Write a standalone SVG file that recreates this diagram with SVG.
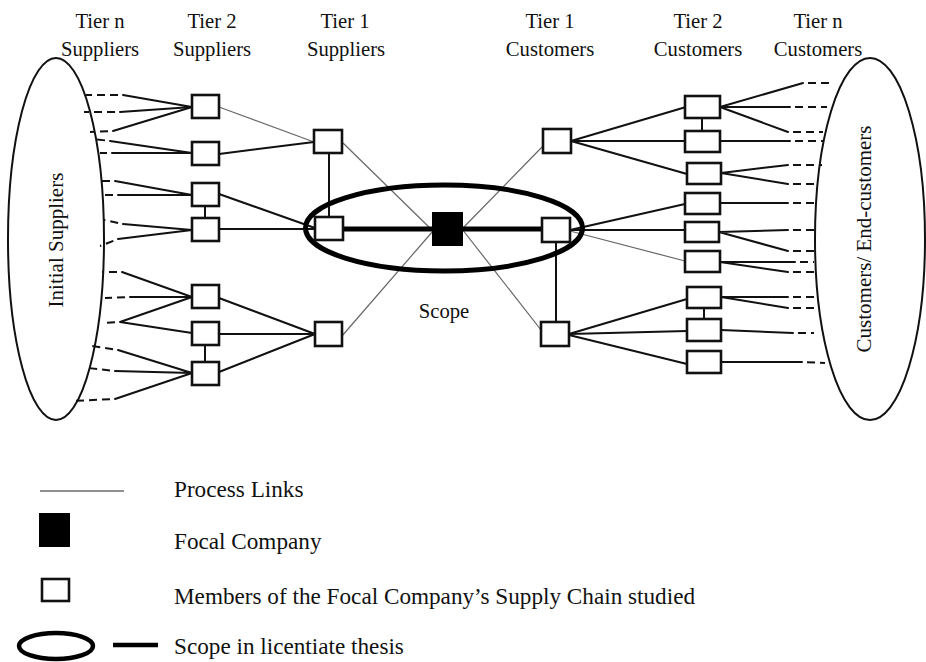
<svg xmlns="http://www.w3.org/2000/svg" width="926" height="662" viewBox="0 0 926 662">
  <style>
    text { font-family: "Liberation Serif", "Times New Roman", serif; fill: #111; }
    .hdr { font-size: 20.7px; text-anchor: middle; }
    .side { font-size: 21px; text-anchor: middle; }
    .leg { font-size: 23.2px; }
    .node { fill: #fff; stroke: #111; stroke-width: 2.6; }
    .focal { fill: #000; stroke: none; }
    .link { fill: none; stroke: #111; stroke-width: 2; stroke-linecap: round; stroke-linejoin: round; }
    .thin { fill: none; stroke: #666; stroke-width: 1.2; }
    .dash { fill: none; stroke: #111; stroke-width: 2; stroke-dasharray: 8 5; stroke-dashoffset: 8; }
    .scope { fill: none; stroke: #000; stroke-width: 5; }
    .outer { fill: none; stroke: #111; stroke-width: 2; }
  </style>

  <!-- column headers -->
  <g id="headers">
    <text class="hdr" x="100" y="28">Tier n</text>
    <text class="hdr" x="100" y="56">Suppliers</text>
    <text class="hdr" x="212" y="28">Tier 2</text>
    <text class="hdr" x="212" y="56">Suppliers</text>
    <text class="hdr" x="345" y="28">Tier 1</text>
    <text class="hdr" x="346" y="56">Suppliers</text>
    <text class="hdr" x="550" y="28">Tier 1</text>
    <text class="hdr" x="550" y="56">Customers</text>
    <text class="hdr" x="698" y="28">Tier 2</text>
    <text class="hdr" x="698" y="56">Customers</text>
    <text class="hdr" x="818" y="28">Tier n</text>
    <text class="hdr" x="818" y="56">Customers</text>
  </g>

  <!-- outer groups at both ends of the chain -->
  <g id="initial-suppliers">
    <ellipse class="outer" cx="56" cy="239" rx="48" ry="181"/>
    <text class="side" transform="translate(63 240) rotate(-90)">Initial Suppliers</text>
  </g>
  <g id="end-customers">
    <ellipse class="outer" cx="870" cy="239" rx="55" ry="181"/>
    <text class="side" transform="translate(871 239) rotate(-90)">Customers/ End-customers</text>
  </g>

  <g id="connectors">
    <!-- tier n suppliers to tier 2 suppliers: solid part -->
    <polyline class="link" points="123,95 192,107 120,112"/>
    <line class="link" x1="113" y1="131" x2="192" y2="107"/>
    <polyline class="link" points="110,141 192,153 112,153"/>
    <polyline class="link" points="115,181 192,195 118,195"/>
    <polyline class="link" points="123,224 192,230 118,239"/>
    <polyline class="link" points="122,272 192,297 130,297"/>
    <polyline class="link" points="192,297 120,322 192,333"/>
    <polyline class="link" points="118,350 192,373 115,371"/>
    <line class="link" x1="115" y1="399" x2="192" y2="373"/>
    <!-- tier n suppliers: dashed part -->
    <line class="dash" x1="123" y1="95" x2="86" y2="95"/>
    <line class="dash" x1="120" y1="112" x2="84" y2="112"/>
    <line class="dash" x1="113" y1="131" x2="90" y2="132"/>
    <line class="dash" x1="110" y1="141" x2="94" y2="139"/>
    <line class="dash" x1="112" y1="153" x2="100" y2="153"/>
    <line class="dash" x1="115" y1="181" x2="99" y2="181"/>
    <line class="dash" x1="118" y1="195" x2="100" y2="195"/>
    <line class="dash" x1="123" y1="224" x2="104" y2="220"/>
    <line class="dash" x1="118" y1="239" x2="100" y2="246"/>
    <line class="dash" x1="122" y1="272" x2="102" y2="272"/>
    <line class="dash" x1="130" y1="297" x2="105" y2="298"/>
    <line class="dash" x1="120" y1="322" x2="102" y2="323"/>
    <line class="dash" x1="118" y1="350" x2="92" y2="346"/>
    <line class="dash" x1="115" y1="371" x2="88" y2="368"/>
    <line class="dash" x1="115" y1="399" x2="72" y2="401"/>

    <!-- tier 2 suppliers to tier 1 suppliers -->
    <line class="thin" x1="219" y1="107" x2="314" y2="142"/>
    <line class="link" x1="219" y1="154" x2="314" y2="142"/>
    <line class="link" x1="219" y1="194" x2="315" y2="228"/>
    <line class="link" x1="219" y1="229" x2="315" y2="229"/>
    <line class="link" x1="219" y1="298" x2="315" y2="334"/>
    <line class="link" x1="219" y1="334" x2="315" y2="334"/>
    <line class="link" x1="219" y1="372" x2="315" y2="334"/>
    <line class="link" x1="205" y1="206" x2="205" y2="218"/>
    <line class="link" x1="205" y1="345" x2="205" y2="362"/>
    <line class="link" x1="329" y1="153" x2="329" y2="217"/>

    <!-- process links through the focal company -->
    <line class="thin" x1="343" y1="143" x2="433" y2="231"/>
    <line class="thin" x1="342" y1="336" x2="433" y2="231"/>
    <line class="thin" x1="462" y1="229" x2="543" y2="146"/>
    <line class="thin" x1="462" y1="229" x2="541" y2="330"/>
    <line class="link" x1="556" y1="242" x2="556" y2="322"/>

    <!-- tier 1 customers to tier 2 customers -->
    <line class="link" x1="571" y1="141" x2="686" y2="107"/>
    <line class="link" x1="571" y1="141" x2="685" y2="141"/>
    <line class="link" x1="571" y1="141" x2="687" y2="174"/>
    <line class="link" x1="570" y1="230" x2="685" y2="204"/>
    <line class="link" x1="570" y1="230" x2="685" y2="230"/>
    <line class="thin" x1="570" y1="231" x2="685" y2="261"/>
    <line class="link" x1="569" y1="334" x2="687" y2="299"/>
    <line class="link" x1="569" y1="334" x2="687" y2="331"/>
    <line class="link" x1="569" y1="335" x2="687" y2="364"/>
    <line class="link" x1="702" y1="118" x2="702" y2="131"/>
    <line class="link" x1="704" y1="308" x2="704" y2="319"/>

    <!-- tier 2 customers to tier n customers: solid part -->
    <polyline class="link" points="803,83 720,107 790,107"/>
    <line class="link" x1="720" y1="107" x2="788" y2="132"/>
    <line class="link" x1="720" y1="141" x2="790" y2="141"/>
    <polyline class="link" points="788,165 721,173 788,184"/>
    <line class="link" x1="720" y1="203" x2="788" y2="203"/>
    <polyline class="link" points="788,230 719,232 788,251"/>
    <polyline class="link" points="795,262 720,262 788,272"/>
    <polyline class="link" points="788,297 721,297 788,308"/>
    <line class="link" x1="721" y1="330" x2="793" y2="333"/>
    <line class="link" x1="721" y1="362" x2="802" y2="362"/>
    <!-- tier n customers: dashed part -->
    <line class="dash" x1="803" y1="83" x2="832" y2="83"/>
    <line class="dash" x1="790" y1="107" x2="827" y2="107"/>
    <line class="dash" x1="788" y1="132" x2="823" y2="132"/>
    <line class="dash" x1="790" y1="141" x2="823" y2="141"/>
    <line class="dash" x1="788" y1="165" x2="822" y2="165"/>
    <line class="dash" x1="788" y1="184" x2="814" y2="184"/>
    <line class="dash" x1="788" y1="203" x2="814" y2="203"/>
    <line class="dash" x1="788" y1="230" x2="814" y2="230"/>
    <line class="dash" x1="788" y1="251" x2="814" y2="251"/>
    <line class="dash" x1="795" y1="262" x2="814" y2="262"/>
    <line class="dash" x1="788" y1="272" x2="814" y2="272"/>
    <line class="dash" x1="788" y1="297" x2="814" y2="297"/>
    <line class="dash" x1="788" y1="308" x2="814" y2="308"/>
    <line class="dash" x1="793" y1="333" x2="814" y2="333"/>
    <line class="dash" x1="802" y1="362" x2="825" y2="363"/>

    <!-- scope: thick dyad line -->
    <line class="link" x1="343" y1="229" x2="542" y2="229" style="stroke:#000;stroke-width:5"/>
  </g>

  <g id="scope">
    <ellipse class="scope" cx="444" cy="228" rx="138.5" ry="43"/>
    <text class="hdr" x="444" y="318">Scope</text>
  </g>

  <!-- tier 2 suppliers -->
  <g id="s2-a"><rect class="node" x="192" y="95" width="27" height="23"/></g>
  <g id="s2-b"><rect class="node" x="192" y="142" width="27" height="23"/></g>
  <g id="s2-c"><rect class="node" x="192" y="183" width="27" height="23"/></g>
  <g id="s2-d"><rect class="node" x="192" y="218" width="27" height="23"/></g>
  <g id="s2-e"><rect class="node" x="192" y="285" width="27" height="23"/></g>
  <g id="s2-f"><rect class="node" x="192" y="322" width="27" height="23"/></g>
  <g id="s2-g"><rect class="node" x="192" y="362" width="27" height="23"/></g>

  <!-- tier 1 suppliers -->
  <g id="s1-a"><rect class="node" x="314" y="130" width="28" height="23"/></g>
  <g id="s1-b"><rect class="node" x="315" y="217" width="28" height="23"/></g>
  <g id="s1-c"><rect class="node" x="315" y="322" width="27" height="24"/></g>

  <!-- focal company -->
  <g id="focal"><rect class="focal" x="432" y="212" width="31" height="34"/></g>

  <!-- tier 1 customers -->
  <g id="c1-a"><rect class="node" x="543" y="129" width="28" height="24"/></g>
  <g id="c1-b"><rect class="node" x="542" y="218" width="28" height="24"/></g>
  <g id="c1-c"><rect class="node" x="541" y="322" width="28" height="24"/></g>

  <!-- tier 2 customers -->
  <g id="c2-a"><rect class="node" x="685" y="96" width="35" height="22"/></g>
  <g id="c2-b"><rect class="node" x="685" y="131" width="35" height="21"/></g>
  <g id="c2-c"><rect class="node" x="687" y="163" width="34" height="21"/></g>
  <g id="c2-d"><rect class="node" x="685" y="193" width="35" height="21"/></g>
  <g id="c2-e"><rect class="node" x="685" y="222" width="34" height="20"/></g>
  <g id="c2-f"><rect class="node" x="685" y="251" width="35" height="21"/></g>
  <g id="c2-g"><rect class="node" x="687" y="287" width="34" height="21"/></g>
  <g id="c2-h"><rect class="node" x="687" y="319" width="34" height="22"/></g>
  <g id="c2-i"><rect class="node" x="687" y="351" width="34" height="22"/></g>

  <!-- legend -->
  <g id="legend">
    <line x1="40" y1="491" x2="124" y2="491" stroke="#222" stroke-width="1.2"/>
    <text class="leg" x="174" y="497">Process Links</text>
    <rect class="focal" x="39" y="513" width="31" height="34"/>
    <text class="leg" x="174" y="549">Focal Company</text>
    <rect class="node" x="42" y="579" width="27" height="22"/>
    <text class="leg" x="174" y="604">Members of the Focal Company’s Supply Chain studied</text>
    <ellipse cx="56" cy="646" rx="37" ry="13" fill="none" stroke="#000" stroke-width="4.5"/>
    <line x1="113" y1="645" x2="158" y2="645" stroke="#000" stroke-width="4.5"/>
    <text class="leg" x="174" y="654">Scope in licentiate thesis</text>
  </g>
</svg>
